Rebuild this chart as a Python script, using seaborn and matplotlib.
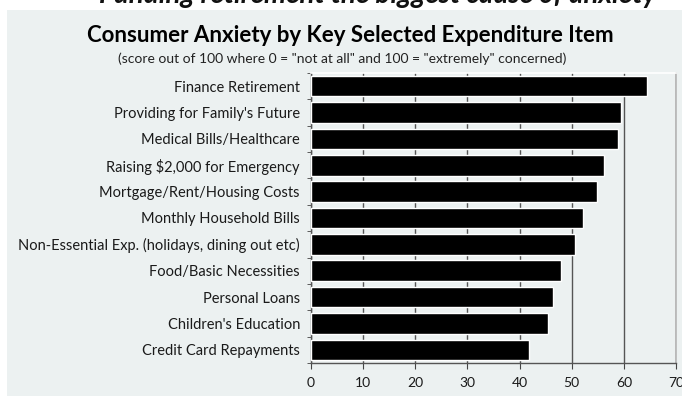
#!/usr/bin/env python3

import pandas as pd
import matplotlib.pyplot as plt
import seaborn as sns
from matplotlib.patches import Rectangle
from matplotlib.ticker import MultipleLocator

items = [
    "Finance Retirement",
    "Providing for Family's Future",
    "Medical Bills/Healthcare",
    "Raising $2,000 for Emergency",
    "Mortgage/Rent/Housing Costs",
    "Monthly Household Bills",
    "Non-Essential Exp. (holidays, dining out etc)",
    "Food/Basic Necessities",
    "Personal Loans",
    "Children's Education",
    "Credit Card Repayments",
]
scores = [64.4, 59.4, 58.8, 56.1, 54.8, 52.1, 50.7, 47.9, 46.4, 45.5, 41.9]

top_title = "Funding retirement the biggest cause of anxiety"
title = "Consumer Anxiety by Key Selected Expenditure Item"
subtitle = '(score out of 100 where 0 = "not at all" and 100 = "extremely" concerned)'

BG = "#ECF1F1"

if __name__ == "__main__":
    sns.set_style("white")
    plt.rcParams["font.family"] = ["Lato", "DejaVu Sans"]

    df = pd.DataFrame({"Item": items, "Score": scores})

    fig = plt.figure(figsize=(6.82, 4.0), dpi=100)
    fig.patch.set_facecolor("white")

    # light panel behind the chart
    fig.patches.append(Rectangle((7 / 682, 4 / 400), 1 - 7 / 682, 386 / 400,
                                 transform=fig.transFigure, facecolor=BG,
                                 edgecolor="none", zorder=-1))

    ax = fig.add_axes([311 / 682, 1 - 363 / 400, 365 / 682, 290 / 400])
    ax.set_zorder(2)
    ax.set_facecolor(BG)

    sns.barplot(data=df, x="Score", y="Item", orient="h", color="black",
                width=0.78, saturation=1, ax=ax, zorder=3)

    ax.set_xlim(0, 70)
    ax.set_ylim(len(items) - 0.5, -0.5)
    ax.xaxis.set_major_locator(MultipleLocator(10))
    ax.grid(axis="x", color="#555555", linewidth=1, zorder=1)
    ax.set_axisbelow(True)
    ax.set_xlabel("")
    ax.set_ylabel("")

    # ticks on the y axis sit between categories
    ax.set_yticks(range(len(items)))
    ax.set_yticklabels(items)
    ax.set_yticks([i - 0.5 for i in range(len(items) + 1)], minor=True)
    ax.tick_params(axis="y", which="major", length=0, pad=8, labelsize=10.5,
                   labelcolor="#1a1a1a")
    ax.tick_params(axis="y", which="minor", length=3, direction="out",
                   color="#444444", left=True)
    ax.tick_params(axis="x", length=4, direction="out", color="#444444",
                   bottom=True, pad=6, labelsize=10, labelcolor="#1a1a1a")

    for side in ["left", "bottom"]:
        ax.spines[side].set_color("#555555")
        ax.spines[side].set_linewidth(1)
    ax.spines["top"].set_color("white")
    ax.spines["top"].set_linewidth(1.2)
    ax.spines["right"].set_color("#b5b5b5")
    ax.spines["right"].set_linewidth(1.2)

    # headline above the panel, cut by the top edge as in the source
    fig.text(378 / 682, 1 - 3 / 400, top_title, ha="center", va="baseline",
             fontsize=20, fontweight="bold", fontstyle="italic", color="#111111")
    fig.text(350 / 682, 1 - 36 / 400, title, ha="center", va="center",
             fontsize=16, fontweight="bold", color="black")
    fig.text(342 / 682, 1 - 59 / 400, subtitle, ha="center", va="center",
             fontsize=10, color="#222222")

    plt.savefig("out.png", dpi=100, facecolor=fig.get_facecolor())
    plt.close()
